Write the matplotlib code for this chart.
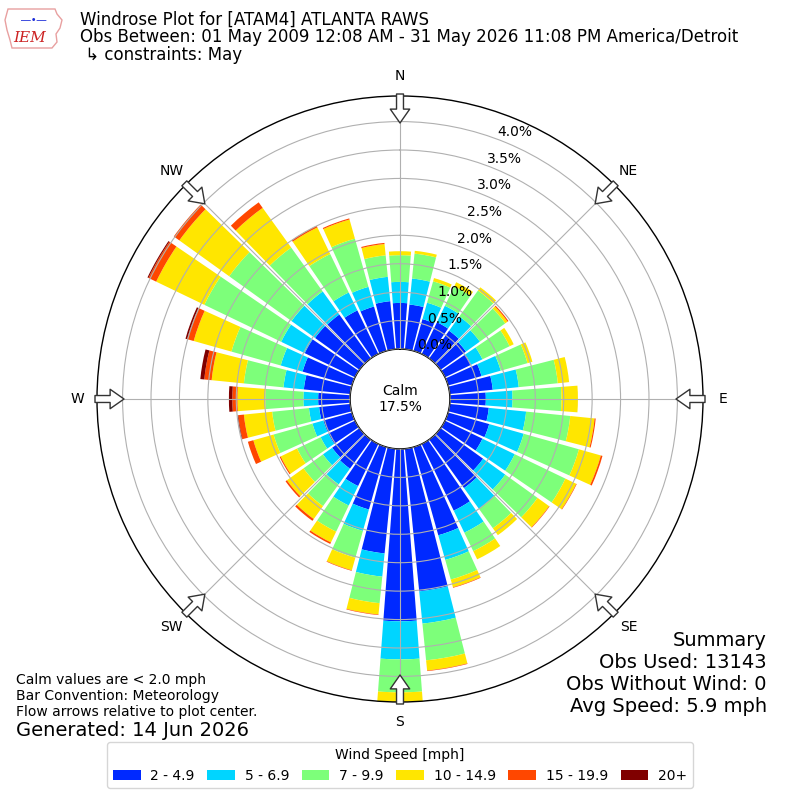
import numpy as np
import matplotlib
matplotlib.use("Agg")
import matplotlib.pyplot as plt
from matplotlib.patches import Polygon

# wind directions (deg, meteorological "from") and speed bins
directions = np.arange(0, 360, 10)
speed_bins = ["2 - 4.9", "5 - 6.9", "7 - 9.9", "10 - 14.9", "15 - 19.9", "20+"]
compass = ["N", "NE", "E", "SE", "S", "SW", "W", "NW"]

# frequency (% of obs) per direction for each speed bin
freq_2_5 = [0.81, 0.79, 0.58, 0.62, 0.60, 0.55, 0.51, 0.61, 0.76, 0.63,
            0.69, 0.75, 0.73, 0.92, 1.05, 1.30, 1.61, 2.52, 3.03, 1.85,
            1.14, 0.82, 0.63, 0.59, 0.52, 0.52, 0.55, 0.56, 0.82, 0.90,
            0.98, 0.96, 0.95, 0.85, 0.81, 0.85]
freq_5_7 = [0.37, 0.46, 0.30, 0.32, 0.31, 0.30, 0.22, 0.35, 0.46, 0.47,
            0.66, 0.63, 0.63, 0.48, 0.45, 0.43, 0.45, 0.57, 0.67, 0.41,
            0.39, 0.38, 0.34, 0.20, 0.15, 0.20, 0.18, 0.26, 0.36, 0.40,
            0.46, 0.51, 0.50, 0.35, 0.36, 0.43]
freq_7_10 = [0.47, 0.44, 0.39, 0.38, 0.56, 0.55, 0.53, 0.49, 0.69, 0.86,
             0.78, 1.01, 0.99, 0.70, 0.42, 0.36, 0.36, 0.65, 0.58, 0.47,
             0.49, 0.51, 0.47, 0.42, 0.46, 0.71, 0.65, 0.67, 0.70, 0.90,
             1.50, 1.35, 0.95, 0.75, 0.88, 0.38]
freq_10_15 = [0.07, 0.05, 0.06, 0.08, 0.07, 0.05, 0.08, 0.09, 0.20, 0.29,
              0.43, 0.40, 0.21, 0.25, 0.15, 0.16, 0.14, 0.18, 0.17, 0.20,
              0.23, 0.21, 0.28, 0.36, 0.32, 0.37, 0.50, 0.49, 0.57, 0.69,
              0.94, 1.08, 0.86, 0.52, 0.35, 0.20]
freq_15_20 = [0.0, 0.0, 0.0, 0.0, 0.0, 0.02, 0.0, 0.0, 0.0, 0.0,
              0.02, 0.03, 0.01, 0.01, 0.0, 0.0, 0.01, 0.01, 0.0, 0.01,
              0.01, 0.03, 0.04, 0.03, 0.02, 0.10, 0.10, 0.09, 0.13, 0.12,
              0.15, 0.12, 0.12, 0.03, 0.02, 0.02]
freq_20 = [0.0, 0.0, 0.0, 0.0, 0.0, 0.0, 0.0, 0.0, 0.0, 0.0,
           0.0, 0.0, 0.0, 0.0, 0.0, 0.0, 0.0, 0.0, 0.0, 0.0,
           0.0, 0.0, 0.0, 0.0, 0.0, 0.0, 0.01, 0.06, 0.07, 0.03,
           0.02, 0.0, 0.0, 0.0, 0.0, 0.0]
calm_pct = 17.5

series = [freq_2_5, freq_5_7, freq_7_10, freq_10_15, freq_15_20, freq_20]
colors = plt.get_cmap("jet")(np.linspace(0, 1, 7)[1:])

fig = plt.figure(figsize=(8, 8), dpi=100)
ax = fig.add_axes([97 / 800, 98 / 800, 606 / 800, 606 / 800], projection="polar")
ax.set_theta_zero_location("N")
ax.set_theta_direction(-1)

theta = np.deg2rad(directions)
bottom = np.zeros(len(directions))
for vals, color, label in zip(series, colors, speed_bins):
    vals = np.array(vals)
    ax.bar(theta, vals, width=np.deg2rad(8.6), bottom=bottom, color=color,
           label=label, linewidth=0, align="center")
    bottom += vals

rmax = bottom.max()
r0 = rmax * 50 / 253  # calm hole
ax.set_ylim(0, rmax)
ax.set_rorigin(-r0)
ax.set_axisbelow(False)

rticks = np.arange(0, 4.01, 0.5)
ax.set_yticks(rticks)
ax.set_yticklabels(["%.1f%%" % t for t in rticks], fontsize=10)
ax.set_rlabel_position(20.5)
ax.set_thetagrids(np.arange(0, 360, 45), labels=[""] * 8)
ax.grid(color="#b0b0b0", linewidth=0.8)
ax.spines["polar"].set_linewidth(1.0)
ax.spines["inner"].set_linewidth(1.1)

ax.text(0.5, 0.5, "Calm\n%.1f%%" % calm_pct, transform=ax.transAxes,
        ha="center", va="center", fontsize=10)


def px2r(px):
    return -r0 + px / 303 * (rmax + r0)


for i, lbl in enumerate(compass):
    ang = np.deg2rad(i * 45)
    ax.text(ang, px2r(323), lbl, ha="center", va="center", fontsize=10)
    ax.annotate("", xy=(ang, px2r(276)), xytext=(ang, px2r(305)),
                arrowprops=dict(facecolor="white", edgecolor="#333333",
                                width=5, headwidth=14, headlength=10,
                                linewidth=1),
                annotation_clip=False)

# header
fig.text(80 / 800, 1 - 20 / 800, "Windrose Plot for [ATAM4] ATLANTA RAWS",
         fontsize=12, va="center")
fig.text(80 / 800, 1 - 37 / 800,
         "Obs Between: 01 May 2009 12:08 AM - 31 May 2026 11:08 PM America/Detroit",
         fontsize=12, va="center")
fig.text(80 / 800, 1 - 55 / 800, " \u21b3 constraints: May", fontsize=12, va="center")

# IEM logo (rough)
iowa = [(8, 9), (55, 9), (57, 14), (62, 20), (60, 28), (56, 34), (57, 42),
        (52, 48), (12, 48), (10, 40), (7, 30), (5, 20), (8, 9)]
fig.patches.append(Polygon([(x / 800, 1 - y / 800) for x, y in iowa], closed=True,
                           fill=False, edgecolor="#e8a0a0", linewidth=1,
                           transform=fig.transFigure))
fig.text(30 / 800, 1 - 38 / 800, "IEM", color="#cc2222", fontsize=11,
         family="serif", style="italic", ha="center", va="center")
fig.text(34 / 800, 1 - 20 / 800, "\u2015\u2022\u2015", color="#1a2bd8",
         fontsize=7, ha="center", va="center")

# notes
fig.text(16 / 800, 1 - 680 / 800, "Calm values are < 2.0 mph", fontsize=10, va="center")
fig.text(16 / 800, 1 - 696 / 800, "Bar Convention: Meteorology", fontsize=10, va="center")
fig.text(16 / 800, 1 - 712 / 800, "Flow arrows relative to plot center.", fontsize=10,
         va="center")
fig.text(16 / 800, 1 - 730 / 800, "Generated: 14 Jun 2026", fontsize=14, va="center")

summary = ["Summary", "Obs Used: 13143", "Obs Without Wind: 0", "Avg Speed: 5.9 mph"]
for i, s in enumerate(summary):
    fig.text(767 / 800, 1 - (640 + 22 * i) / 800, s, fontsize=14, ha="right",
             va="center")

handles, labels = ax.get_legend_handles_labels()
fig.legend(handles, labels, loc="lower center", bbox_to_anchor=(0.5, 0.006),
           ncol=6, title="Wind Speed [mph]", fontsize=10, title_fontsize=10,
           handlelength=2.0, handletextpad=0.7, columnspacing=0.9)

fig.savefig("out.png", dpi=100)
